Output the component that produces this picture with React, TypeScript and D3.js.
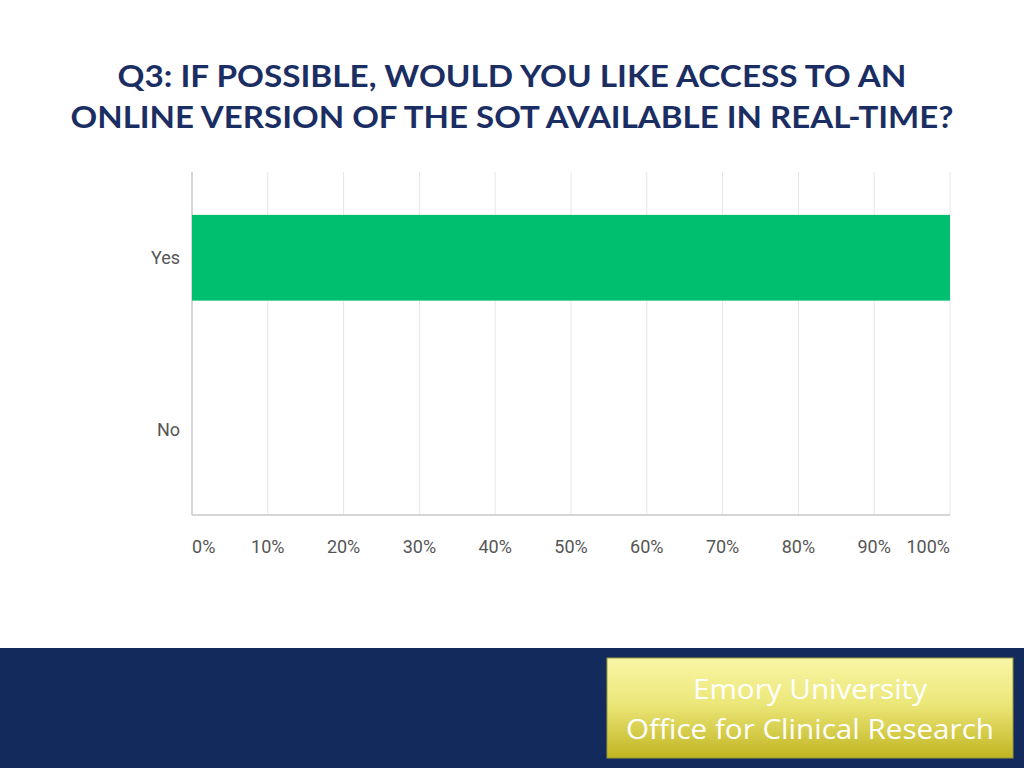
import React from 'react';
import * as d3 from 'd3';

const answers = ['Yes', 'No'];
const shares = [100, 0]; // percent of respondents
const xTicks = [0, 10, 20, 30, 40, 50, 60, 70, 80, 90, 100];
const titleLines = [
  'Q3: IF POSSIBLE, WOULD YOU LIKE ACCESS TO AN',
  'ONLINE VERSION OF THE SOT AVAILABLE IN REAL-TIME?',
];
const footerLines = ['Emory University', 'Office for Clinical Research'];

const W = 1024;
const H = 768;
const margin = { top: 172, right: 74, bottom: 253, left: 192 };

export default function App() {
  const x = d3.scaleLinear().domain([0, 100]).range([margin.left, W - margin.right]);
  const y = d3
    .scaleBand<string>()
    .domain(answers)
    .range([margin.top, H - margin.bottom])
    .paddingInner(0.5)
    .paddingOuter(0.25);

  const tickAnchor = (i: number) => (i === 0 ? 'start' : i === xTicks.length - 1 ? 'end' : 'middle');

  return (
    <div style={{ position: 'fixed', left: 0, top: 0, width: W, height: H, background: '#fff' }}>
      <svg width={W} height={H} style={{ display: 'block' }}>
        <defs>
          <linearGradient id="plate" x1="0" y1="0" x2="0" y2="1">
            <stop offset="0%" stopColor="#f8f6a6" />
            <stop offset="45%" stopColor="#ece77a" />
            <stop offset="100%" stopColor="#c1b521" />
          </linearGradient>
        </defs>

        {titleLines.map((t, i) => (
          <text
            key={t}
            x={W / 2}
            y={87 + i * 41}
            textAnchor="middle"
            fontFamily="Lato, 'Open Sans', sans-serif"
            fontWeight={700}
            fontSize={31}
            fill="#1b2e63"
            textLength={i === 0 ? 789 : 883}
            lengthAdjust="spacingAndGlyphs"
          >
            {t}
          </text>
        ))}

        {/* grid */}
        {xTicks.map((t) => (
          <line
            key={t}
            x1={x(t)}
            x2={x(t)}
            y1={margin.top}
            y2={H - margin.bottom}
            stroke={t === 0 ? '#c8c8c8' : '#e6e6e6'}
            strokeWidth={t === 0 ? 1.5 : 1}
          />
        ))}
        <line
          x1={margin.left}
          x2={W - margin.right}
          y1={H - margin.bottom}
          y2={H - margin.bottom}
          stroke="#c8c8c8"
          strokeWidth={1.5}
        />

        {/* bars */}
        {answers.map((a, i) => (
          <rect
            key={a}
            x={x(0)}
            y={y(a)}
            width={x(shares[i]) - x(0)}
            height={y.bandwidth()}
            fill="#00bf6f"
          />
        ))}

        {/* y labels */}
        {answers.map((a) => (
          <text
            key={a}
            x={margin.left - 12}
            y={(y(a) ?? 0) + y.bandwidth() / 2}
            dy="0.35em"
            textAnchor="end"
            fontFamily="Roboto, 'Noto Sans', sans-serif"
            fontSize={18}
            fill="#555"
          >
            {a}
          </text>
        ))}

        {/* x labels */}
        {xTicks.map((t, i) => (
          <text
            key={t}
            x={x(t)}
            y={553}
            textAnchor={tickAnchor(i)}
            fontFamily="Roboto, 'Noto Sans', sans-serif"
            fontSize={18}
            fill="#555"
          >
            {t}%
          </text>
        ))}

        {/* footer */}
        <rect x={0} y={648} width={W} height={H - 648} fill="#132a5c" />
        <rect x={607} y={658} width={406} height={100} fill="url(#plate)" stroke="#9a9a3a" strokeWidth={1} />
        {footerLines.map((t, i) => (
          <text
            key={t}
            x={810}
            y={699 + i * 40}
            textAnchor="middle"
            fontFamily="'Open Sans', sans-serif"
            fontSize={28}
            fill="#ffffff"
            textLength={i === 0 ? 234 : 368}
            lengthAdjust="spacingAndGlyphs"
          >
            {t}
          </text>
        ))}
      </svg>
    </div>
  );
}
